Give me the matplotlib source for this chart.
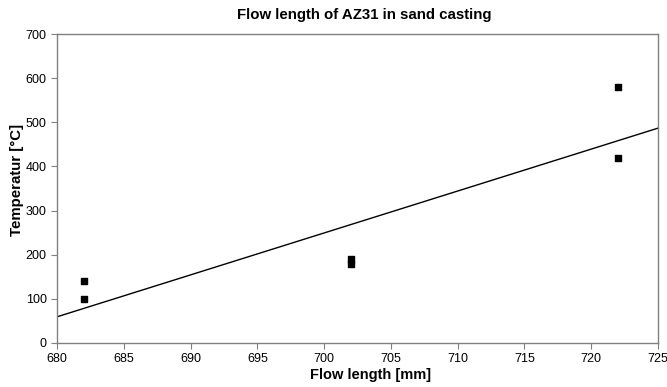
import matplotlib
matplotlib.use("Agg")
import matplotlib.pyplot as plt
import numpy as np

plt.rcParams['font.family'] = ['Liberation Sans', 'DejaVu Sans']

flow_length = [682, 682, 702, 702, 722, 722]
temperature = [140, 100, 190, 180, 580, 420]
x_ticks = [680, 685, 690, 695, 700, 705, 710, 715, 720, 725]
y_ticks = [0, 100, 200, 300, 400, 500, 600, 700]

fig = plt.figure(figsize=(6.67, 3.87), dpi=100)
ax = fig.add_axes([0.0855, 0.1137, 0.901, 0.7983])

ax.scatter(flow_length, temperature, marker='s', s=22, color='black', zorder=3)
coef = np.polyfit(flow_length, temperature, 1)
xl = np.array([680, 725])
ax.plot(xl, np.polyval(coef, xl), color='black', lw=1.0, zorder=2)

ax.set_xlim(680, 725)
ax.set_ylim(0, 700)
ax.set_xticks(x_ticks)
ax.set_yticks(y_ticks)
ax.tick_params(labelsize=9, length=4, width=0.8, color='#808080', direction='out')
for s in ax.spines.values():
    s.set_color('#808080')
    s.set_linewidth(1.0)

ax.set_title('Flow length of AZ31 in sand casting', fontsize=10.8, fontweight='bold',
             x=0.512, pad=11)
ax.set_xlabel('Flow length [mm]', fontsize=10.5, fontweight='bold')
ax.xaxis.set_label_coords(0.521, -0.082)
ax.set_ylabel('Temperatur [°C]', fontsize=10.8, fontweight='bold')
ax.yaxis.set_label_coords(-0.055, 0.527)

fig.savefig('out.png', dpi=100)
